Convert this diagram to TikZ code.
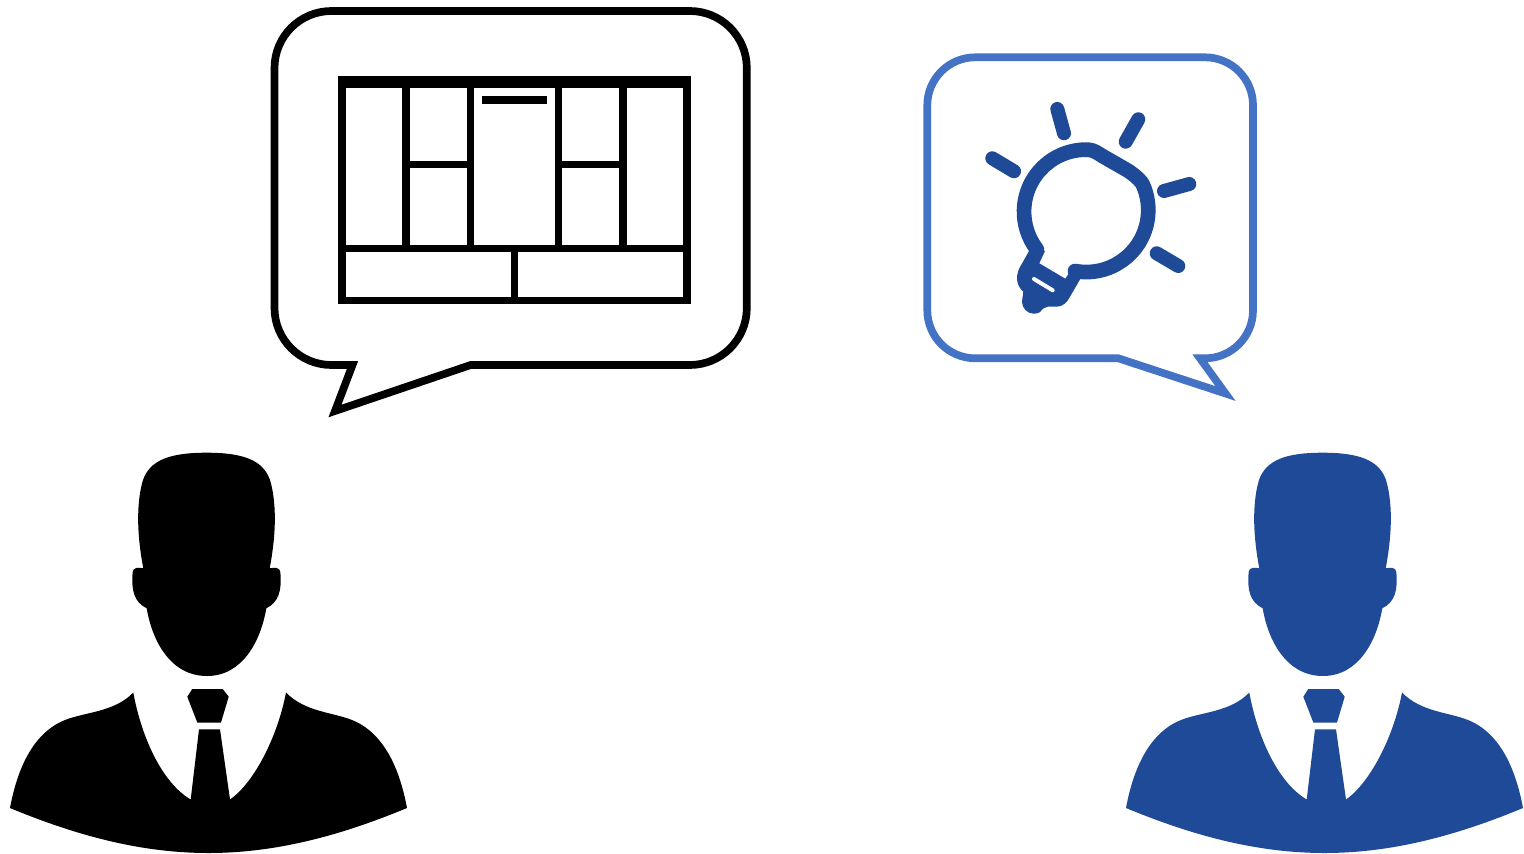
\documentclass[tikz,border=0pt]{standalone}
\definecolor{darkblue}{HTML}{1E4A97}
\definecolor{lineblue}{HTML}{4472C4}
\tikzset{
  gridline/.style={draw=black,line width=7.6pt,line cap=butt},
  bubbleline/.style={fill=white,line width=7.7pt,line join=miter,miter limit=20},
  ray/.style={draw=darkblue,line width=14pt,line cap=round},
}
\newcommand{\personshape}{%
  % head
  \fill (206.5,452.7) .. controls (170,452.7) and (150,460) .. (143,480)
    .. controls (137,500) and (136,530) .. (143.3,568.3)
    .. controls (139,567.5) and (133,567) .. (132.7,572)
    .. controls (131,590) and (134,602) .. (146.7,608.3)
    .. controls (152,640) and (170,676) .. (207,676)
    .. controls (243,676) and (261,640) .. (266.3,608.3)
    .. controls (279,602) and (282,590) .. (280.3,572)
    .. controls (280,567) and (274,567.5) .. (269.7,568.3)
    .. controls (277,530) and (276,500) .. (270,480)
    .. controls (263,460) and (243,452.7) .. (206.5,452.7) -- cycle;
  % shoulders
  \fill (133.3,692.5) .. controls (115,712) and (85,712) .. (65,720)
    .. controls (35,732) and (18,765) .. (10,808)
    .. controls (75,835) and (140,853) .. (208.5,853)
    .. controls (277,853) and (342,835) .. (407,808)
    .. controls (399,765) and (382,732) .. (352,720)
    .. controls (332,712) and (305,712) .. (286,692.5)
    .. controls (278,735) and (255,782) .. (230,799.5)
    -- (220,729.3) -- (199,729.3) -- (190.7,799.5)
    .. controls (161,782) and (141,735) .. (133.3,692.5) -- cycle;
  % knot
  \fill (192.3,689) -- (222.7,689) -- (228.7,696.7) -- (221,722.5) -- (197.3,722.5) -- (187.3,696.7) -- cycle;
}
\begin{document}
\begin{tikzpicture}[x=1pt,y=-1pt]
\useasboundingbox (0,0) rectangle (1524,854);
% left person
\begin{scope}[black]\personshape\end{scope}
% right person
\begin{scope}[darkblue,xshift=1116pt]\personshape\end{scope}
% black bubble
\draw[bubbleline,draw=black]
  (352.5,365) -- (331.5,365) arc[start angle=90,end angle=180,radius=57]
  -- (274.5,68) arc[start angle=180,end angle=270,radius=57]
  -- (689.8,11) arc[start angle=270,end angle=360,radius=57]
  -- (746.8,308) arc[start angle=0,end angle=90,radius=57]
  -- (470.7,365) -- (335,411) -- cycle;
% grid
\fill[black] (338.3,76.3) rectangle (690.7,88);
\draw[gridline] (342.1,76.3) -- (342.1,304.3);
\draw[gridline] (686.9,76.3) -- (686.9,304.3);
\draw[gridline] (338.3,300.5) -- (690.7,300.5);
\draw[gridline] (338.3,248.4) -- (690.7,248.4);
\foreach \gx in {406,470.3,558.3,622.7}{\draw[gridline] (\gx,80) -- (\gx,248.4);}
\draw[gridline] (514.3,248.4) -- (514.3,300.5);
\draw[gridline] (406,164.3) -- (470.3,164.3);
\draw[gridline] (558.3,164.3) -- (622.7,164.3);
\fill[black] (482.3,96) rectangle (546.7,104.3);
% blue bubble
\draw[bubbleline,draw=lineblue]
  (1200,358.3) -- (1205,358.3) arc[start angle=90,end angle=0,radius=48]
  -- (1253,105.3) arc[start angle=0,end angle=-90,radius=48]
  -- (975.3,57.3) arc[start angle=-90,end angle=-180,radius=48]
  -- (927.3,310.3) arc[start angle=180,end angle=90,radius=48]
  -- (1118.3,358.3) -- (1225.5,393.5) -- cycle;
% bulb rays
\draw[ray] (1057.3,109) -- (1064,133.3);
\draw[ray] (1138.3,119.3) -- (1125.7,141.7);
\draw[ray] (992.3,158.3) -- (1014,171.3);
\draw[ray] (1164,191) -- (1189.3,184);
\draw[ray] (1156.7,253.3) -- (1178.3,266);
% bulb outline
\draw[draw=darkblue,line width=14.7pt,line join=round,line cap=round]
  (1075,271) arc[start angle=100.5,end angle=-25,radius=62]
  .. controls (1138.8,178.2) and (1130.7,172.2) .. (1126.3,169.7)
  -- (1103,156.3)
  .. controls (1097.8,153.3) and (1094,150) .. (1088.2,149.7)
  arc[start angle=-88,end angle=-217.5,radius=62];
% bulb base
\fill[darkblue] (1030,249.3) -- (1019.3,268.3)
  .. controls (1015,278) and (1017,286) .. (1023.3,291.7)
  -- (1022,301.7) arc[start angle=180,end angle=60,radius=12]
  .. controls (1045,305) and (1050,306.7) .. (1056.7,306.7)
  .. controls (1062,306.7) and (1067,303) .. (1070,296.7)
  -- (1080.7,278.3) -- (1075,264) -- (1065.3,278.7) -- (1039.3,263.3) -- (1045,251) -- cycle;
\draw[white,line width=4pt,line cap=round] (1034,279) -- (1052.7,290.3);
\end{tikzpicture}
\end{document}
